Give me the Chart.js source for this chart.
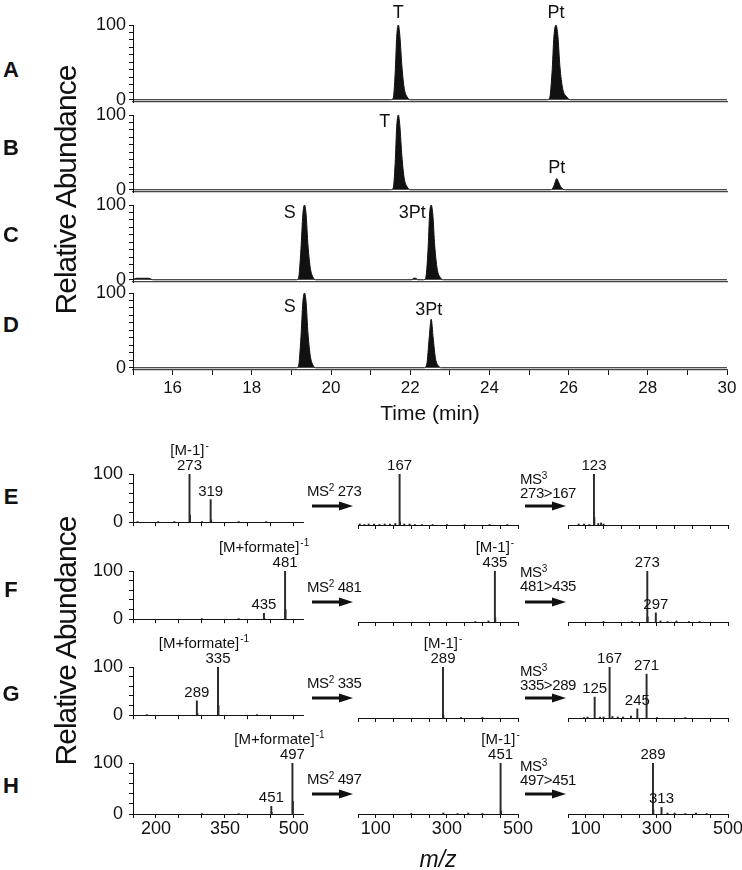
<!DOCTYPE html>
<html>
<head>
<meta charset="utf-8">
<script src="https://cdn.jsdelivr.net/npm/chart.js@4.4.1/dist/chart.umd.min.js"></script>
<style>
  body { margin: 0; background: #fff; }
  #fig { position: relative; width: 742px; height: 870px; overflow: hidden; color: #111;
         font-family: 'Liberation Sans', Arial, sans-serif; }
  #fig canvas { position: absolute; }
  .panel { position: absolute; font: bold 22px 'Liberation Sans', Arial, sans-serif; transform: translate(-50%, -50%); }
  .ytitle { position: absolute; font: 30px 'Liberation Sans', Arial, sans-serif; white-space: nowrap;
            letter-spacing: -1px; transform: translate(-50%, -50%) rotate(-90deg); }
  .ms { position: absolute; font-size: 15px; line-height: 14px; white-space: nowrap; letter-spacing: -0.4px; }
  .ms sup { font-size: 10px; vertical-align: 5px; line-height: 0; }
  .arrow { position: absolute; }
</style>
</head>
<body>
<div id="fig"></div>
<script>
const SANS = "'Liberation Sans', Arial, sans-serif"
const INK = '#111'

// ---- chromatograms A-D : time (min) vs relative abundance ----
const timeTicks = [15, 16, 17, 18, 19, 20, 21, 22, 23, 24, 25, 26, 27, 28, 29, 30]
const timeLabels = [16, 18, 20, 22, 24, 26, 28, 30]
const abundTicks = [0, 10, 20, 30, 40, 50, 60, 70, 80, 90, 100]

const chromA = [[15, 0], [21.50, 0], [21.57, 2], [21.62, 35], [21.66, 85], [21.70, 100], [21.74, 85], [21.79, 45], [21.85, 15], [21.92, 4], [22.00, 0],
  [25.45, 0], [25.52, 2], [25.58, 35], [25.63, 85], [25.68, 100], [25.73, 85], [25.78, 45], [25.85, 15], [25.95, 4], [26.05, 0], [30, 0]]
const chromB = [[15, 0], [21.50, 0], [21.57, 2], [21.62, 35], [21.66, 85], [21.70, 100], [21.74, 85], [21.79, 45], [21.85, 15], [21.92, 4], [22.00, 0],
  [25.55, 0], [25.62, 4], [25.66, 10], [25.70, 15], [25.74, 11], [25.79, 5], [25.85, 1], [25.92, 0], [30, 0]]
const chromC = [[15, 0], [15.08, 2], [15.40, 2], [15.50, 0], [19.12, 0], [19.18, 2], [19.24, 40], [19.29, 88], [19.33, 100], [19.37, 88], [19.42, 45], [19.48, 15], [19.55, 3], [19.62, 0],
  [22.05, 0], [22.08, 2], [22.15, 2], [22.18, 0], [22.33, 0], [22.39, 2], [22.45, 40], [22.49, 88], [22.53, 100], [22.57, 88], [22.62, 45], [22.68, 15], [22.76, 3], [22.84, 0], [30, 0]]
const chromD = [[15, 0], [19.12, 0], [19.18, 2], [19.24, 40], [19.29, 88], [19.33, 100], [19.37, 88], [19.42, 45], [19.48, 15], [19.55, 3], [19.62, 0],
  [22.35, 0], [22.42, 5], [22.48, 40], [22.53, 65], [22.58, 40], [22.64, 12], [22.72, 2], [22.78, 0], [30, 0]]

// peak names: [text, time, abundance at text baseline]
const chromNamesA = [['T', 21.70, 109], ['Pt', 25.68, 109]]
const chromNamesB = [['T', 21.36, 84], ['Pt', 25.70, 22]]
const chromNamesC = [['S', 18.96, 83], ['3Pt', 22.05, 83]]
const chromNamesD = [['S', 18.96, 75], ['3Pt', 22.47, 71]]

// ---- MS spectra E-H : m/z vs relative abundance ----
const mzTicks1 = [150, 200, 250, 300, 350, 400, 450, 500]
const mzTicks23 = [50, 100, 150, 200, 250, 300, 350, 400, 450, 500]
const mzLabels1 = [200, 350, 500]
const mzLabels23 = [100, 300, 500]
const relTicks = [0, 20, 40, 60, 80, 100]

const e1Mz = [160, 205, 240, 273, 274, 300, 319, 320, 380, 440]
const e1Int = [1, 1, 1, 100, 15, 1, 47, 5, 1, 1]
const e2Mz = [55, 68, 80, 95, 110, 125, 140, 155, 167, 168, 180, 195, 210, 230, 260, 300, 350, 420, 470]
const e2Int = [2, 1, 2, 2, 1, 2, 2, 3, 100, 6, 2, 2, 1, 1, 1, 1, 1, 1, 1]
const e3Mz = [80, 95, 110, 123, 124, 135, 143, 150]
const e3Int = [2, 2, 1, 100, 15, 3, 4, 2]
const f1Mz = [300, 380, 435, 436, 481, 482]
const f1Int = [1, 1, 12, 2, 100, 20]
const f2Mz = [380, 417, 435, 436]
const f2Int = [1, 2, 100, 8]
const f3Mz = [150, 230, 273, 274, 297, 310, 330, 355, 390, 420]
const f3Int = [1, 1, 100, 10, 18, 2, 1, 2, 1, 1]
const g1Mz = [180, 289, 290, 335, 336, 420]
const g1Int = [1, 30, 4, 100, 20, 1]
const g2Mz = [289, 290, 340, 400]
const g2Int = [100, 6, 1, 1]
const g3Mz = [95, 105, 125, 140, 150, 167, 175, 190, 205, 227, 245, 271, 300, 380]
const g3Int = [1, 2, 41, 2, 2, 100, 3, 2, 2, 4, 18, 86, 1, 1]
const h1Mz = [300, 380, 451, 452, 497, 498]
const h1Int = [1, 1, 15, 3, 100, 25]
const h2Mz = [200, 290, 330, 360, 400, 451, 452]
const h2Int = [1, 2, 1, 2, 1, 100, 6]
const h3Mz = [289, 290, 313, 330, 350, 380, 410, 440]
const h3Int = [100, 8, 13, 2, 2, 1, 2, 1]

// peak labels: [m/z, abundance, lines (^ starts superscript), shift of first line]
const e1Names = [[273, 100, ['[M-1]^-', '273'], 0], [319, 47, ['319'], 0]]
const e2Names = [[167, 100, ['167'], 0]]
const e3Names = [[123, 100, ['123'], 0]]
const f1Names = [[481, 100, ['[M+formate]^-1', '481'], -21], [435, 12, ['435'], 0]]
const f2Names = [[435, 100, ['[M-1]^-', '435'], 0]]
const f3Names = [[273, 100, ['273'], 0], [297, 18, ['297'], 0]]
const g1Names = [[335, 100, ['[M+formate]^-1', '335'], -14], [289, 30, ['289'], 0]]
const g2Names = [[289, 100, ['[M-1]^-', '289'], 0]]
const g3Names = [[125, 41, ['125'], 0], [167, 100, ['167'], 0], [245, 18, ['245'], 0], [271, 86, ['271'], 0]]
const h1Names = [[497, 100, ['[M+formate]^-1', '497'], -13], [451, 15, ['451'], 0]]
const h2Names = [[451, 100, ['[M-1]^-', '451'], 0]]
const h3Names = [[289, 100, ['289'], 0], [313, 13, ['313'], 0]]

const ms2Precursor = ['273', '481', '335', '497']
const ms3Transition = ['273>167', '481>435', '335>289', '497>451']

// ---- layout ----
const fig = document.getElementById('fig')
const chromLeft = 133, chromWidth = 594, chromHeight = 77
const chromTops = [25, 115, 205, 293]
const colLefts = [133, 348, 558], colWidth = 170
const rowTops = [474, 571, 667, 763], rowHeight = 51

function addCanvas(left, top, w, h, pad) {
  const c = document.createElement('canvas')
  c.width = w + pad.l + pad.r
  c.height = h + pad.t + pad.b
  c.style.left = (left - pad.l) + 'px'
  c.style.top = (top - pad.t) + 'px'
  fig.appendChild(c)
  return c
}

function drawText(ctx, str, cx, y, size) {
  const parts = str.split('^')
  const supSize = Math.round(size * 0.65)
  ctx.font = `${size}px ${SANS}`
  const wb = ctx.measureText(parts[0]).width
  let ws = 0
  if (parts[1]) {
    ctx.font = `${supSize}px ${SANS}`
    ws = ctx.measureText(parts[1]).width + 1
  }
  const x0 = cx - (wb + ws) / 2
  ctx.font = `${size}px ${SANS}`
  ctx.fillText(parts[0], x0, y)
  if (parts[1]) {
    ctx.font = `${supSize}px ${SANS}`
    ctx.fillText(parts[1], x0 + wb + 1, y - size * 0.42)
  }
}

const peakLabels = (items, size, gap, lineH) => ({
  id: 'peakLabels',
  afterDatasetsDraw(chart) {
    const { ctx, scales: { x, y } } = chart
    ctx.save()
    ctx.fillStyle = INK
    ctx.textAlign = 'left'
    ctx.textBaseline = 'alphabetic'
    items.forEach(([xv, yv, lines, dx]) => {
      const px = x.getPixelForValue(xv)
      let py = y.getPixelForValue(yv) - gap
      for (let i = lines.length - 1; i >= 0; i--) {
        drawText(ctx, lines[i], px + (i === 0 && lines.length > 1 ? dx : 0), py, size)
        py -= lineH
      }
    })
    ctx.restore()
  }
})

function chromChart(i, series, names) {
  const last = i === 3
  const pad = { l: 45, t: 22, r: 15, b: last ? 57 : 14 }
  const cv = addCanvas(chromLeft, chromTops[i], chromWidth, chromHeight, pad)
  new Chart(cv, {
    type: 'line',
    data: {
      datasets: [{
        data: series.map(([x, y]) => ({ x, y })),
        borderColor: INK, backgroundColor: INK, borderWidth: 1,
        fill: 'origin', pointRadius: 0, cubicInterpolationMode: 'monotone'
      }]
    },
    options: {
      responsive: false, animation: false, events: [],
      layout: { padding: { left: 0, top: pad.t, right: pad.r, bottom: 0 } },
      plugins: { legend: { display: false }, tooltip: { enabled: false } },
      scales: {
        x: {
          type: 'linear', min: 15, max: 30,
          afterBuildTicks: s => { s.ticks = timeTicks.map(v => ({ value: v })) },
          afterFit: s => { s.height = pad.b },
          border: { color: '#444', width: 1.2 },
          grid: { drawOnChartArea: false, drawTicks: last, tickLength: 5, color: INK },
          ticks: {
            display: last, padding: 3, maxRotation: 0, autoSkip: false, color: INK,
            font: { family: SANS, size: 17 },
            callback: v => timeLabels.includes(v) ? String(v) : ''
          },
          title: { display: last, text: 'Time (min)', color: INK, padding: 0, font: { family: SANS, size: 21 } }
        },
        y: {
          min: -3, max: 100,
          afterBuildTicks: s => { s.ticks = abundTicks.map(v => ({ value: v })) },
          afterFit: s => { s.width = pad.l },
          border: { color: INK, width: 1 },
          grid: { drawOnChartArea: false, tickLength: 4, color: INK },
          ticks: {
            padding: 3, autoSkip: false, color: INK, font: { family: SANS, size: 18 },
            callback: v => (v === 0 || v === 100) ? String(v) : ''
          }
        }
      }
    },
    plugins: [peakLabels(names.map(([t, x, y]) => [x, y, [t], 0]), 18, 0, 18)]
  })
}

function msChart(row, col, mz, inten, names) {
  const first = col === 0, bottom = row === 3
  const pad = { l: first ? 45 : 10, t: 40, r: first ? 30 : 16, b: bottom ? (col === 1 ? 60 : 30) : 14 }
  const cv = addCanvas(colLefts[col], rowTops[row], colWidth, rowHeight, pad)
  const ticks = first ? mzTicks1 : mzTicks23
  const shown = first ? mzLabels1 : mzLabels23
  new Chart(cv, {
    type: 'bar',
    data: {
      datasets: [{
        data: mz.map((m, k) => ({ x: m, y: inten[k] })),
        backgroundColor: '#2a2a2a', barThickness: 1.3, borderWidth: 0
      }]
    },
    options: {
      responsive: false, animation: false, events: [],
      layout: { padding: { left: first ? 0 : pad.l, top: pad.t, right: pad.r, bottom: 0 } },
      plugins: { legend: { display: false }, tooltip: { enabled: false } },
      scales: {
        x: {
          type: 'linear', offset: false, min: first ? 150 : 50, max: first ? 520 : 500,
          afterBuildTicks: s => { s.ticks = ticks.map(v => ({ value: v })) },
          afterFit: s => { s.height = pad.b },
          border: { color: INK, width: 1 },
          grid: { offset: false, drawOnChartArea: false, tickLength: 4, color: INK },
          ticks: {
            display: bottom, padding: 0, maxRotation: 0, autoSkip: false, color: INK,
            font: { family: SANS, size: 18 },
            callback: v => shown.includes(v) ? String(v) : ''
          },
          title: { display: bottom && col === 1, text: 'm/z', color: INK, padding: 0,
                   font: { family: SANS, size: 23, style: 'italic' } }
        },
        y: {
          display: first, min: 0, max: 100,
          afterBuildTicks: s => { s.ticks = relTicks.map(v => ({ value: v })) },
          afterFit: s => { s.width = pad.l },
          border: { color: INK, width: 1 },
          grid: { drawOnChartArea: false, tickLength: 4, color: INK },
          ticks: {
            padding: 6, autoSkip: false, color: INK, font: { family: SANS, size: 18 },
            callback: v => (v === 0 || v === 100) ? String(v) : ''
          }
        }
      }
    },
    plugins: [peakLabels(names, 15, 4, 15)]
  })
}

function addDiv(cls, html, left, top) {
  const d = document.createElement('div')
  d.className = cls
  d.innerHTML = html
  d.style.left = left + 'px'
  d.style.top = top + 'px'
  fig.appendChild(d)
}

function addArrow(left, midY) {
  const ns = 'http://www.w3.org/2000/svg'
  const svg = document.createElementNS(ns, 'svg')
  svg.setAttribute('class', 'arrow')
  svg.setAttribute('width', 42)
  svg.setAttribute('height', 10)
  svg.style.left = left + 'px'
  svg.style.top = (midY - 5) + 'px'
  svg.innerHTML = '<line x1="0" y1="5" x2="30" y2="5" stroke="#111" stroke-width="3"/><polygon points="27,0.5 41,5 27,9.5" fill="#111"/>'
  fig.appendChild(svg)
}

// chromatograms
chromChart(0, chromA, chromNamesA)
chromChart(1, chromB, chromNamesB)
chromChart(2, chromC, chromNamesC)
chromChart(3, chromD, chromNamesD)

// spectra, row by row
const msRows = [
  [[e1Mz, e1Int, e1Names], [e2Mz, e2Int, e2Names], [e3Mz, e3Int, e3Names]],
  [[f1Mz, f1Int, f1Names], [f2Mz, f2Int, f2Names], [f3Mz, f3Int, f3Names]],
  [[g1Mz, g1Int, g1Names], [g2Mz, g2Int, g2Names], [g3Mz, g3Int, g3Names]],
  [[h1Mz, h1Int, h1Names], [h2Mz, h2Int, h2Names], [h3Mz, h3Int, h3Names]]
]
msRows.forEach((row, r) => row.forEach(([mz, it, nm], c) => msChart(r, c, mz, it, nm)))

// panel letters and axis titles
const letterPos = [['A', 11, 70], ['B', 11, 148], ['C', 11, 235], ['D', 11, 325],
  ['E', 11, 497], ['F', 11, 590], ['G', 11, 694], ['H', 11, 786]]
letterPos.forEach(([t, x, y]) => addDiv('panel', t, x, y))
addDiv('ytitle', 'Relative Abundance', 66, 190)
addDiv('ytitle', 'Relative Abundance', 66, 641)

// MS2 / MS3 annotations with arrows
const ms2Tops = [484, 580, 676, 772]
const ms3Tops = [472, 565, 664, 759]
const arrowY = [506, 602, 698, 794]
ms2Precursor.forEach((p, r) => {
  addDiv('ms', `MS<sup>2</sup> ${p}`, 307, ms2Tops[r])
  addArrow(312, arrowY[r])
  addDiv('ms', `MS<sup>3</sup><br>${ms3Transition[r]}`, 520, ms3Tops[r])
  addArrow(525, arrowY[r])
})
</script>
</body>
</html>
